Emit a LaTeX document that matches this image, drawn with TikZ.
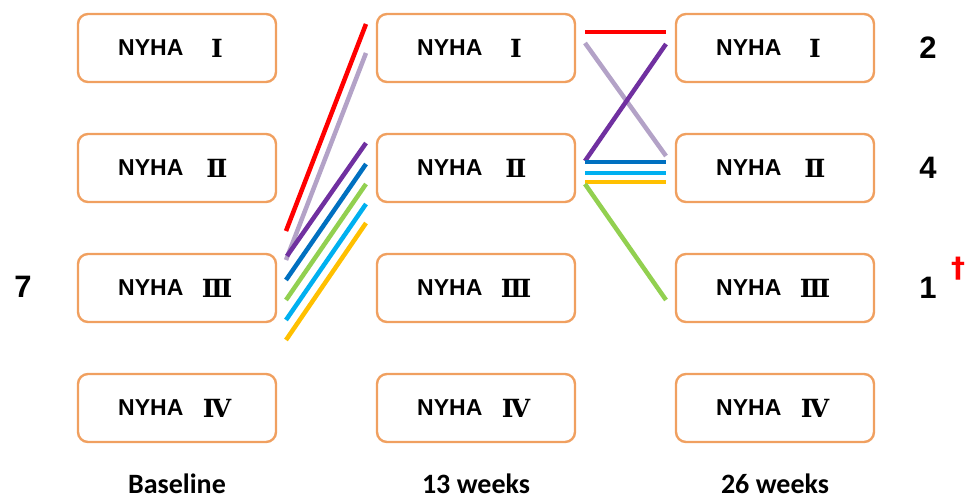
\documentclass[tikz,border=0pt]{standalone}
\usepackage{fontspec}
\setmainfont{Liberation Sans}
\newfontfamily\romfont{DejaVu Serif}
\newfontfamily\dagfont{DejaVu Sans}
\newfontfamily\labfont{Carlito}
\begin{document}
\begin{tikzpicture}[x=1pt,y=-1pt,
  nybox/.style={draw=boxorange, line width=2.4pt, rounded corners=10pt,
    minimum width=198pt, minimum height=68pt, inner sep=0pt},
  nytxt/.style={anchor=west, inner sep=0pt, font=\fontsize{23}{25}\selectfont\bfseries},
  romtxt/.style={inner sep=0pt, font=\romfont\fontsize{25}{27}\selectfont\bfseries},
  link/.style={line width=4.5pt},
  cnt/.style={font=\fontsize{31}{34}\selectfont\bfseries},
  lab/.style={anchor=base, font=\labfont\fontsize{28}{30}\selectfont\bfseries}]
\definecolor{boxorange}{HTML}{F0A060}
\definecolor{cred}{HTML}{FF0000}
\definecolor{clav}{HTML}{B3A2C7}
\definecolor{cpur}{HTML}{7030A0}
\definecolor{cdblue}{HTML}{0070C0}
\definecolor{cgreen}{HTML}{92D050}
\definecolor{ccyan}{HTML}{00B0F0}
\definecolor{cyel}{HTML}{FFC000}
\useasboundingbox (0,0) rectangle (967,501);
% boxes
\foreach \c/\x in {a/177,b/476,c/775}{
  \foreach \r/\y/\num in {1/48/Ⅰ,2/168/Ⅱ,3/288/Ⅲ,4/408/Ⅳ}{
    \node[nybox] (\c\r) at (\x,\y) {};
    \node[nytxt] (\c\r n) at ([xshift=-59pt]\c\r.center) {NYHA};
    \node[romtxt] (\c\r r) at ([xshift=40pt]\c\r.center) {\num};
  }
}
% left links
\coordinate (l1) at (286,231); \coordinate (r1) at (366,24);
\coordinate (l2) at (286,260); \coordinate (r2) at (366,53);
\coordinate (l3) at (287,256); \coordinate (r3) at (366,143);
\coordinate (l4) at (286,280); \coordinate (r4) at (366,164);
\coordinate (l5) at (286,300); \coordinate (r5) at (366,184);
\coordinate (l6) at (286,320); \coordinate (r6) at (366,204);
\coordinate (l7) at (286,340); \coordinate (r7) at (366,223);
\draw[link,cred] (l1) -- (r1);
\draw[link,clav] (l2) -- (r2);
\draw[link,cpur] (l3) -- (r3);
\draw[link,cdblue] (l4) -- (r4);
\draw[link,cgreen] (l5) -- (r5);
\draw[link,ccyan] (l6) -- (r6);
\draw[link,cyel] (l7) -- (r7);
% right links
\coordinate (p1) at (585,32); \coordinate (q1) at (666,32);
\coordinate (p2) at (585,43); \coordinate (q2) at (666,156);
\coordinate (p3) at (585,161); \coordinate (q3) at (666,44);
\coordinate (p4) at (585,162); \coordinate (q4) at (666,162);
\coordinate (p5) at (585,173); \coordinate (q5) at (666,173);
\coordinate (p6) at (585,182); \coordinate (q6) at (666,182);
\coordinate (p7) at (585,184); \coordinate (q7) at (666,300);
\draw[link,cred] (p1) -- (q1);
\draw[link,clav] (p2) -- (q2);
\draw[link,cpur] (p3) -- (q3);
\draw[link,cdblue] (p4) -- (q4);
\draw[link,ccyan] (p5) -- (q5);
\draw[link,cyel] (p6) -- (q6);
\draw[link,cgreen] (p7) -- (q7);
% counts
\node[cnt] (n7) at (23,287) {7};
\node[cnt] (n2) at (928,48) {2};
\node[cnt] (n4) at (928,168) {4};
\node[cnt] (n1) at (928,288) {1};
\node[font=\dagfont\fontsize{28}{30}\selectfont\bfseries, text=cred] (dg) at (958,269) {†};
% column labels
\node[lab] (t1) at (177,493) {Baseline};
\node[lab] (t2) at (476,493) {13 weeks};
\node[lab] (t3) at (775,493) {26 weeks};
\end{tikzpicture}
\end{document}
